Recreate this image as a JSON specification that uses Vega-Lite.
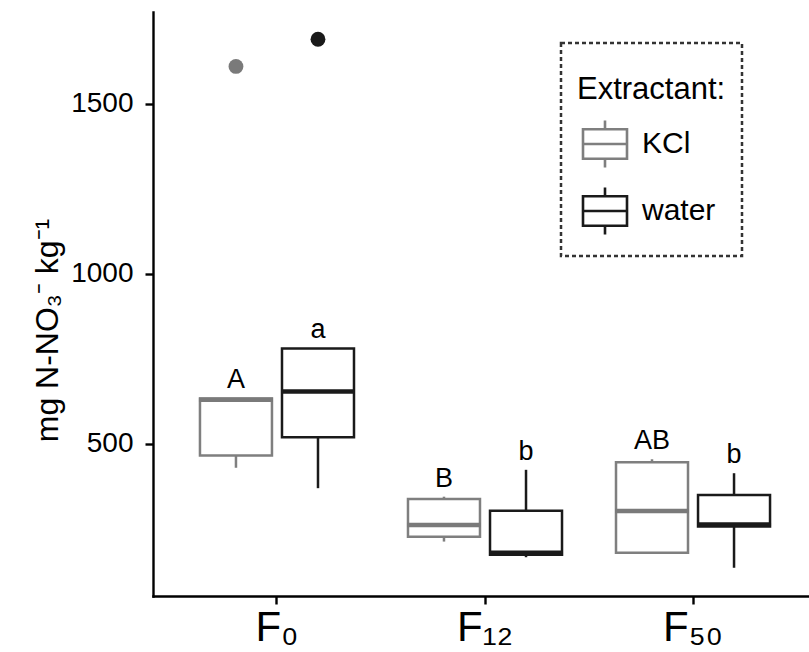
{
  "$schema": "https://vega.github.io/schema/vega-lite/v6.json",
  "width": 656,
  "height": 584,
  "autosize": {"type": "none"},
  "padding": {"left": 153, "top": 12, "right": 0, "bottom": 56},
  "background": "white",
  "config": {
    "font": "Liberation Sans",
    "view": {"stroke": null},
    "axis": {"grid": false, "domainColor": "black", "tickColor": "black", "labelColor": "black", "titleColor": "black", "domainWidth": 2.4, "tickWidth": 2.4, "tickSize": 8, "domainCap": "square", "titleFontWeight": "normal"},
    "axisY": {"titleFontSize": 32, "labelFontSize": 28}
  },
  "datasets": {
    "boxes": [
      {"group": "F₀", "ext": "KCl", "lower": 430, "q1": 466, "median": 630, "q3": 634, "upper": 634, "letter": "A"},
      {"group": "F₀", "ext": "water", "lower": 370, "q1": 520, "median": 654, "q3": 781, "upper": 781, "letter": "a"},
      {"group": "F₁₂", "ext": "KCl", "lower": 213, "q1": 227, "median": 262, "q3": 338, "upper": 345, "letter": "B"},
      {"group": "F₁₂", "ext": "water", "lower": 167, "q1": 174, "median": 180, "q3": 304, "upper": 424, "letter": "b"},
      {"group": "F₅₀", "ext": "KCl", "lower": 180, "q1": 180, "median": 303, "q3": 446, "upper": 455, "letter": "AB"},
      {"group": "F₅₀", "ext": "water", "lower": 136, "q1": 257, "median": 263, "q3": 350, "upper": 414, "letter": "b"}
    ],
    "outliers": [
      {"group": "F₀", "ext": "KCl", "value": 1610},
      {"group": "F₀", "ext": "water", "value": 1690}
    ]
  },
  "encoding": {
    "x": {
      "field": "group", "type": "nominal", "sort": ["F₀", "F₁₂", "F₅₀"],
      "scale": {"range": [0, 664], "paddingInner": 0, "paddingOuter": 0.096},
      "axis": {"title": null, "labelAngle": 0, "labelFontSize": 42, "labelPadding": 3}
    },
    "xOffset": {
      "field": "ext", "type": "nominal", "sort": ["KCl", "water"],
      "scale": {"paddingInner": 0, "paddingOuter": 0.268}
    }
  },
  "layer": [
    {
      "data": {"name": "boxes"},
      "mark": {"type": "rule", "strokeWidth": 2.5},
      "encoding": {
        "y": {
          "field": "lower", "type": "quantitative",
          "title": "mg N-NO₃⁻   kg⁻¹",
          "scale": {"domain": [53, 1770], "nice": false, "zero": false},
          "axis": {"values": [500, 1000, 1500], "format": "d", "labelPadding": 12, "titleX": -96, "titleY": 318, "titleAngle": -90, "titleBaseline": "alphabetic", "titleAlign": "center"}
        },
        "y2": {"field": "q1"},
        "stroke": {
          "field": "ext", "type": "nominal",
          "scale": {"domain": ["KCl", "water"], "range": ["#7f7f7f", "#1a1a1a"]},
          "legend": {
            "title": "Extractant:", "orient": "none", "legendX": 408, "legendY": 31, "direction": "vertical",
            "padding": 16,
            "titleFontSize": 31, "titleFontWeight": "normal", "titleColor": "black", "titlePadding": 39,
            "titleBaseline": "line-top", "titleLineHeight": 63,
            "labelFontSize": 30, "labelColor": "black", "labelOffset": 22,
            "symbolType": "M-2,-1.34H2V1.34H-2ZM-2,0H2M0,-1.34V-2.14M0,1.34V2.14",
            "symbolSize": 484, "symbolOffset": 13, "symbolStrokeWidth": 2.5, "symbolFillColor": "transparent", "rowPadding": 9,
            "encode": {
              "legend": {"update": {"stroke": {"value": "#333333"}, "strokeDash": {"value": [4, 3]}, "strokeWidth": {"value": 2.5}, "fill": {"value": "white"}}},
              "symbols": {"update": {"fillOpacity": {"value": 0}, "strokeOpacity": {"value": 1}, "strokeWidth": {"value": 2.6}}}
            }
          }
        }
      }
    },
    {
      "data": {"name": "boxes"},
      "mark": {"type": "rule", "strokeWidth": 2.5},
      "encoding": {
        "y": {"field": "q3", "type": "quantitative", "title": "mg N-NO₃⁻   kg⁻¹"},
        "y2": {"field": "upper"},
        "stroke": {"field": "ext", "type": "nominal"}
      }
    },
    {
      "data": {"name": "boxes"},
      "mark": {"type": "bar", "filled": false, "strokeWidth": 2.5, "width": 72},
      "encoding": {
        "y": {"field": "q1", "type": "quantitative", "title": "mg N-NO₃⁻   kg⁻¹"},
        "y2": {"field": "q3"},
        "stroke": {"field": "ext", "type": "nominal"}
      }
    },
    {
      "data": {"name": "boxes"},
      "mark": {"type": "tick", "thickness": 4.5, "size": 74, "opacity": 1},
      "encoding": {
        "y": {"field": "median", "type": "quantitative", "title": "mg N-NO₃⁻   kg⁻¹"},
        "color": {"field": "ext", "type": "nominal", "scale": {"domain": ["KCl", "water"], "range": ["#7a7a7a", "#1a1a1a"]}, "legend": null}
      }
    },
    {
      "data": {"name": "outliers"},
      "mark": {"type": "point", "filled": true, "size": 220, "opacity": 1, "strokeWidth": 0},
      "encoding": {
        "y": {"field": "value", "type": "quantitative", "title": "mg N-NO₃⁻   kg⁻¹"},
        "fill": {"field": "ext", "type": "nominal", "scale": {"domain": ["KCl", "water"], "range": ["#7a7a7a", "#1a1a1a"]}, "legend": null}
      }
    },
    {
      "data": {"name": "boxes"},
      "mark": {"type": "text", "dy": -10, "baseline": "alphabetic", "fontSize": 27, "color": "black"},
      "encoding": {
        "y": {"field": "upper", "type": "quantitative", "title": "mg N-NO₃⁻   kg⁻¹"},
        "text": {"field": "letter"}
      }
    }
  ]
}
